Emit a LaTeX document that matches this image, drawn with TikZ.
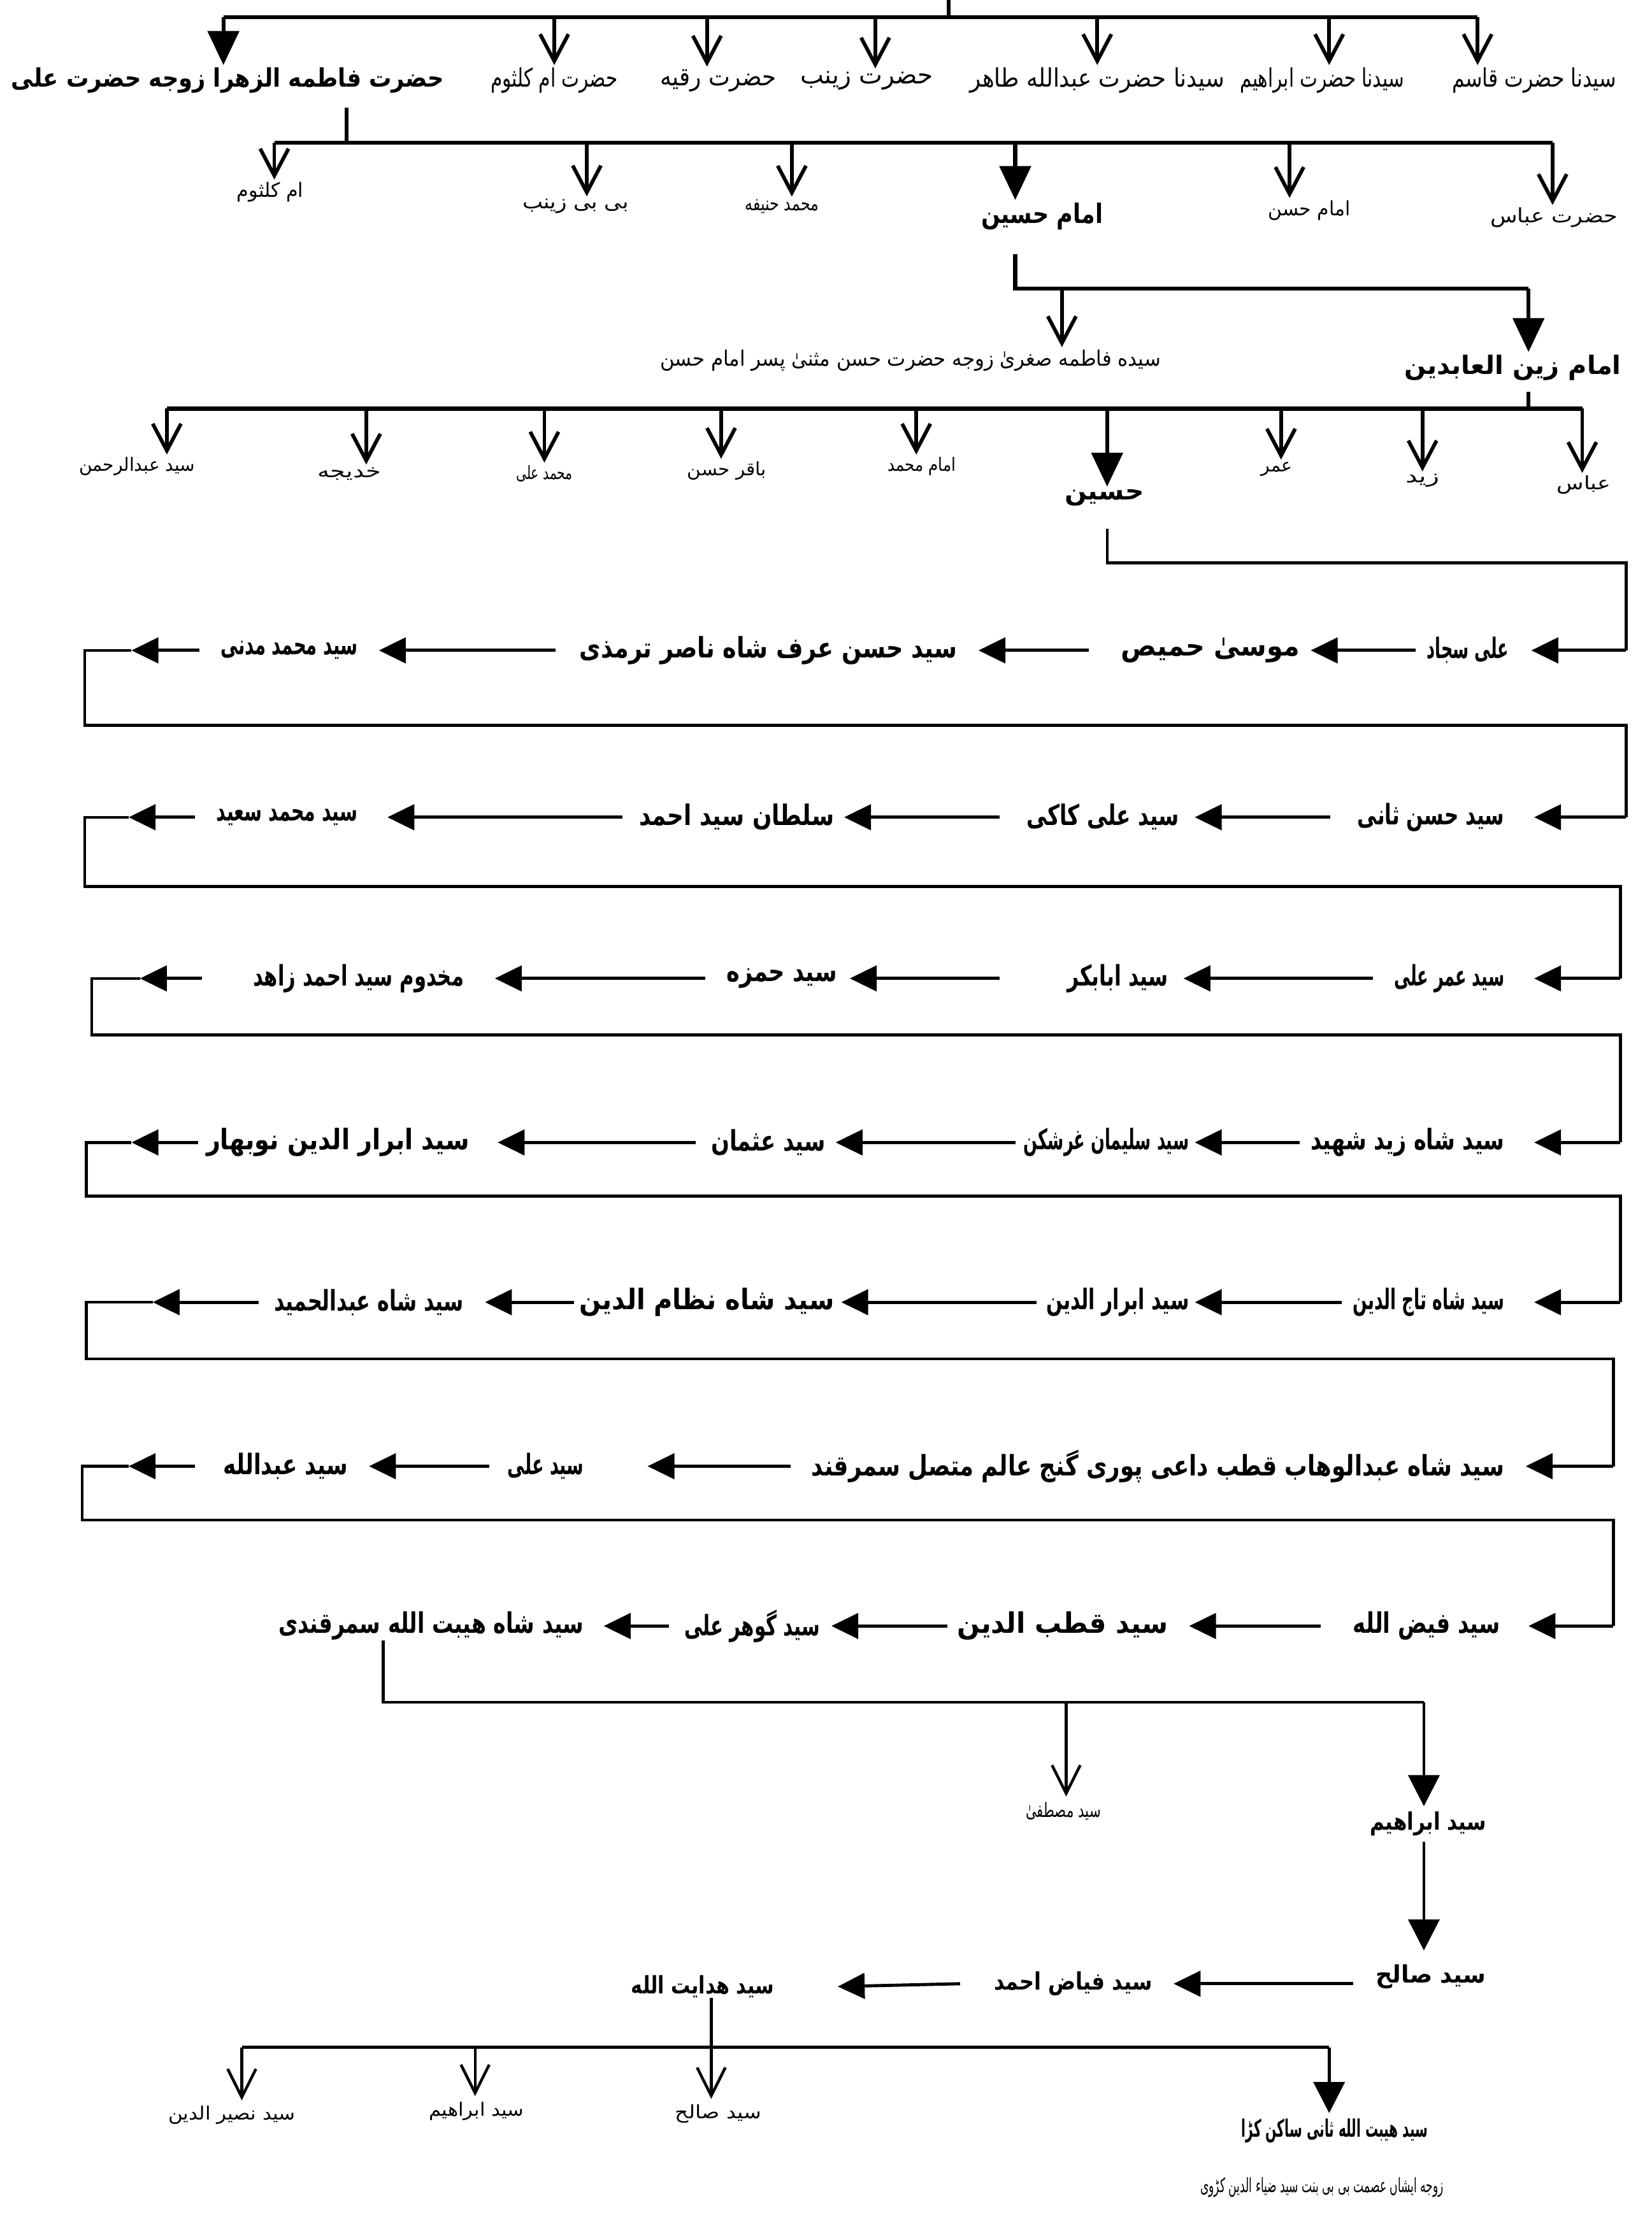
\documentclass[tikz,border=0pt]{standalone}
\usepackage{fontspec}
\usepackage{graphicx}
\usetikzlibrary{arrows.meta}
\newfontfamily\ur[Script=Arabic]{DejaVu Sans}
\TeXXeTstate=1
\newcommand\Uw[3]{\resizebox{#1pt}{\height}{\ur\fontsize{#2}{#2}\selectfont #3}}
\newcommand\Ub[3]{\resizebox{#1pt}{\height}{\ur\bfseries\fontsize{#2}{#2}\selectfont #3}}
\tikzset{
  lab/.style={inner sep=0pt,outer sep=0pt},
  tl/.style={line width=2.8pt},
  oarr/.style={line width=2.6pt,shorten >=2pt,-{Straight Barb[length=19pt,width=20pt]}},
  barr/.style={line width=2.8pt,shorten >=2pt,-{Triangle[length=24pt,width=22pt]}},
  cl/.style={line width=2pt},
  carr/.style={line width=2.2pt,-{Triangle[length=19pt,width=18pt]}},
  oarrb/.style={line width=2pt,shorten >=4pt,-{Straight Barb[length=20pt,width=20pt]}},
  barrb/.style={line width=2.2pt,shorten >=4pt,-{Triangle[length=22pt,width=22pt]}},
}
\begin{document}
\begin{tikzpicture}[x=1pt,y=-1pt]
\fill[white] (0,0) rectangle (1168,1568);
\useasboundingbox (0,0) rectangle (1168,1568);

% ---------- top row: children ----------
\node[lab] (t1) at (161,57) {\Ub{306}{18}{\beginR حضرت فاطمه الزهرا زوجه حضرت علی\endR}};
\node[lab] (t2) at (392,57) {\Uw{90}{18}{\beginR حضرت ام کلثوم\endR}};
\node[lab] (t3) at (508,57) {\Uw{82}{18}{\beginR حضرت رقیه\endR}};
\node[lab] (t4) at (613,57) {\Uw{94}{18}{\beginR حضرت زینب\endR}};
\node[lab] (t5) at (776,57) {\Uw{180}{18}{\beginR سیدنا حضرت عبدالله طاهر\endR}};
\node[lab] (t6) at (935,57) {\Uw{116}{18}{\beginR سیدنا حضرت ابراهیم\endR}};
\node[lab] (t7) at (1085,57) {\Uw{116}{18}{\beginR سیدنا حضرت قاسم\endR}};

\coordinate (top0) at (671,0);
\coordinate (top1) at (671,12);
\coordinate (a1) at (158,12);
\coordinate (a2) at (392,12);
\coordinate (a3) at (500,12);
\coordinate (a4) at (619,12);
\coordinate (a5) at (776,12);
\coordinate (a6) at (940,12);
\coordinate (a7) at (1045,12);
\draw[tl] (top0) -- (top1);
\draw[tl] (a1) -- (a7);
\draw[barr] (a1) -- (a1 |- t1.north);
\draw[oarr] (a2) -- (a2 |- t2.north);
\draw[oarr] (a3) -- (a3 |- t3.north);
\draw[oarr] (a4) -- (a4 |- t4.north);
\draw[oarr] (a5) -- (a5 |- t5.north);
\draw[oarr] (a6) -- (a6 |- t6.north);
\draw[oarr] (a7) -- (a7 |- t7.north);

% ---------- second row ----------
\node[lab] (r1) at (191,136) {\Uw{47}{14}{\beginR ام کلثوم\endR}};
\node[lab] (r2) at (407,146) {\Uw{75}{14}{\beginR بی بی زینب\endR}};
\node[lab] (r3) at (553,146) {\Uw{52}{14}{\beginR محمد حنیفه\endR}};
\node[lab] (r4) at (737,153) {\Ub{86}{19}{\beginR امام حسین\endR}};
\node[lab] (r5) at (926,149) {\Uw{58}{14}{\beginR امام حسن\endR}};
\node[lab] (r6) at (1099,154) {\Uw{90}{14}{\beginR حضرت عباس\endR}};

\coordinate (f0) at (245,76);
\coordinate (f1) at (245,101);
\coordinate (g1) at (194,101);
\coordinate (g2) at (415,101);
\coordinate (g3) at (560,101);
\coordinate (g4) at (718,101);
\coordinate (g5) at (912,101);
\coordinate (g6) at (1098,101);
\draw[tl] (f0) -- (f1);
\draw[tl] (g1) -- (g6);
\draw[oarr] (g1) -- (g1 |- r1.north);
\draw[oarr] (g2) -- (g2 |- r2.north);
\draw[oarr] (g3) -- (g3 |- r3.north);
\draw[barr] (g4) -- (g4 |- r4.north);
\draw[oarr] (g5) -- (g5 |- r5.north);
\draw[oarr] (g6) -- (g6 |- r6.north);

% ---------- Imam Husain ----------
\node[lab] (fs) at (644,255) {\Uw{354}{15}{\beginR سیده فاطمه صغریٰ زوجه حضرت حسن مثنیٰ پسر امام حسن\endR}};
\node[lab] (za) at (1070,260) {\Ub{153}{18}{\beginR امام زین العابدین\endR}};
\coordinate (h0) at (718,180);
\coordinate (h1) at (718,204);
\coordinate (h2) at (751,204);
\coordinate (h3) at (1081,204);
\draw[tl] (h0) -- (h1) -- (h3);
\draw[oarr] (h2) -- (h2 |- fs.north);
\draw[barr] (h3) -- (h3 |- za.north);

% ---------- Zain ul Abidin ----------
\node[lab] (z1) at (97,330) {\Uw{82}{13}{\beginR سید عبدالرحمن\endR}};
\node[lab] (z2) at (247,335) {\Uw{45}{13}{\beginR خدیجه\endR}};
\node[lab] (z3) at (385,335) {\Uw{40}{13}{\beginR محمد علی\endR}};
\node[lab] (z4) at (514,333) {\Uw{56}{13}{\beginR باقر حسن\endR}};
\node[lab] (z5) at (652,330) {\Uw{48}{13}{\beginR امام محمد\endR}};
\node[lab] (z6) at (781,352) {\Ub{56}{18}{\beginR حسین\endR}};
\node[lab] (z7) at (903,332) {\Uw{22}{13}{\beginR عمر\endR}};
\node[lab] (z8) at (1006,340) {\Uw{24}{13}{\beginR زید\endR}};
\node[lab] (z9) at (1120,343) {\Uw{38}{13}{\beginR عباس\endR}};
\coordinate (y0) at (1081,277);
\coordinate (y1) at (1081,289);
\coordinate (p1) at (118,289);
\coordinate (p2) at (259,289);
\coordinate (p3) at (385,289);
\coordinate (p4) at (510,289);
\coordinate (p5) at (648,289);
\coordinate (p6) at (783,289);
\coordinate (p7) at (906,289);
\coordinate (p8) at (1006,289);
\coordinate (p9) at (1119,289);
\draw[tl] (y0) -- (y1);
\draw[tl] (p1) -- (p9);
\draw[oarr] (p1) -- (p1 |- z1.north);
\draw[oarr] (p2) -- (p2 |- z2.north);
\draw[oarr] (p3) -- (p3 |- z3.north);
\draw[oarr] (p4) -- (p4 |- z4.north);
\draw[oarr] (p5) -- (p5 |- z5.north);
\draw[barr] (p6) -- (p6 |- z6.north);
\draw[oarr] (p7) -- (p7 |- z7.north);
\draw[oarr] (p8) -- (p8 |- z8.north);
\draw[oarr] (p9) -- (p9 |- z9.north);

% ---------- chain ----------
\coordinate (hh) at (783,374);
\coordinate (hh1) at (783,398);
\coordinate (hh2) at (1150,398);
\coordinate (c1) at (1150,460);
\draw[cl] (hh) -- (hh1) -- (hh2) -- (c1);

% row 1
\node[lab] (n11) at (1038,460) {\Ub{58}{20}{\beginR علی سجاد\endR}};
\node[lab] (n12) at (856,460) {\Ub{126}{20}{\beginR موسیٰ حمیص\endR}};
\node[lab] (n13) at (543.5,460) {\Ub{267}{20}{\beginR سید حسن عرف شاه ناصر ترمذی\endR}};
\node[lab] (n14) at (204.5,460) {\Ub{97}{20}{\beginR سید محمد مدنی\endR}};
\coordinate (k1) at (93,460);
\coordinate (L1) at (60,460);
\coordinate (B1) at (1150,513);
\coordinate (c2) at (1150,578);
\draw[carr] (c1) -- ([xshift=16pt]n11.east);
\draw[carr] ([xshift=-8pt]n11.west) -- ([xshift=8pt]n12.east);
\draw[carr] ([xshift=-23pt]n12.west) -- ([xshift=15pt]n13.east);
\draw[carr] ([xshift=-17pt]n13.west) -- ([xshift=15pt]n14.east);
\draw[carr] ([xshift=-15pt]n14.west) -- (k1);
\draw[cl] (k1) -- (L1) |- (B1) -- (c2);

% row 2
\node[lab] (n21) at (1012,578) {\Ub{104}{20}{\beginR سید حسن ثانی\endR}};
\node[lab] (n22) at (780,578) {\Ub{108}{20}{\beginR سید علی کاکی\endR}};
\node[lab] (n23) at (521,578) {\Ub{138}{20}{\beginR سلطان سید احمد\endR}};
\node[lab] (n24) at (203,578) {\Ub{100}{20}{\beginR سید محمد سعید\endR}};
\coordinate (k2) at (91,578);
\coordinate (L2) at (60,578);
\coordinate (B2) at (1146,627);
\coordinate (c3) at (1146,692);
\draw[carr] (c2) -- ([xshift=21pt]n21.east);
\draw[carr] ([xshift=-19pt]n21.west) -- ([xshift=11pt]n22.east);
\draw[carr] ([xshift=-19pt]n22.west) -- ([xshift=7pt]n23.east);
\draw[carr] ([xshift=-12pt]n23.west) -- ([xshift=21pt]n24.east);
\draw[carr] ([xshift=-15pt]n24.west) -- (k2);
\draw[cl] (k2) -- (L2) |- (B2) -- (c3);

% row 3
\node[lab] (n31) at (1025,692) {\Ub{78}{20}{\beginR سید عمر علی\endR}};
\node[lab] (n32) at (790.5,692) {\Ub{71}{20}{\beginR سید ابابکر\endR}};
\node[lab] (n33) at (553,692) {\Ub{78}{20}{\beginR سید حمزه\endR}};
\node[lab] (n34) at (253.5,692) {\Ub{149}{20}{\beginR مخدوم سید احمد زاهد\endR}};
\coordinate (k3) at (99,692);
\coordinate (L3) at (65,692);
\coordinate (B3) at (1146,732);
\coordinate (c4) at (1146,808);
\draw[carr] (c3) -- ([xshift=21pt]n31.east);
\draw[carr] ([xshift=-15pt]n31.west) -- ([xshift=11pt]n32.east);
\draw[carr] ([xshift=-48pt]n32.west) -- ([xshift=9pt]n33.east);
\draw[carr] ([xshift=-15pt]n33.west) -- ([xshift=22pt]n34.east);
\draw[carr] ([xshift=-36pt]n34.west) -- (k3);
\draw[cl] (k3) -- (L3) |- (B3) -- (c4);

% row 4
\node[lab] (n41) at (995.5,808) {\Ub{137}{20}{\beginR سید شاه زید شهید\endR}};
\node[lab] (n42) at (782.5,808) {\Ub{117}{20}{\beginR سید سلیمان غرشکن\endR}};
\node[lab] (n43) at (543.5,808) {\Ub{81}{20}{\beginR سید عثمان\endR}};
\node[lab] (n44) at (239,808) {\Ub{186}{20}{\beginR سید ابرار الدین نوبهار\endR}};
\coordinate (k4) at (93,808);
\coordinate (L4) at (61,808);
\coordinate (B4) at (1146,846);
\coordinate (c5) at (1146,921);
\draw[carr] (c4) -- ([xshift=21pt]n41.east);
\draw[carr] ([xshift=-8pt]n41.west) -- ([xshift=4pt]n42.east);
\draw[carr] ([xshift=-6pt]n42.west) -- ([xshift=7pt]n43.east);
\draw[carr] ([xshift=-11pt]n43.west) -- ([xshift=20pt]n44.east);
\draw[carr] ([xshift=-6pt]n44.west) -- (k4);
\draw[cl] (k4) -- (L4) |- (B4) -- (c5);

% row 5
\node[lab] (n51) at (1010.5,921) {\Ub{107}{20}{\beginR سید شاه تاج الدین\endR}};
\node[lab] (n52) at (790.5,921) {\Ub{101}{20}{\beginR سید ابرار الدین\endR}};
\node[lab] (n53) at (500,921) {\Ub{180}{20}{\beginR سید شاه نظام الدین\endR}};
\node[lab] (n54) at (261,921) {\Ub{134}{20}{\beginR سید شاه عبدالحمید\endR}};
\coordinate (k5) at (108,921);
\coordinate (L5) at (61,921);
\coordinate (B5) at (1141,961);
\coordinate (c6) at (1141,1037);
\draw[carr] (c5) -- ([xshift=21pt]n51.east);
\draw[carr] ([xshift=-8pt]n51.west) -- ([xshift=4pt]n52.east);
\draw[carr] ([xshift=-7pt]n52.west) -- ([xshift=5pt]n53.east);
\draw[carr] ([xshift=-4pt]n53.west) -- ([xshift=15pt]n54.east);
\draw[carr] ([xshift=-11pt]n54.west) -- (k5);
\draw[cl] (k5) -- (L5) |- (B5) -- (c6);

% row 6
\node[lab] (n61) at (819,1037) {\Ub{490}{20}{\beginR سید شاه عبدالوهاب قطب داعی پوری گنج عالم متصل سمرقند\endR}};
\node[lab] (n62) at (386,1037) {\Ub{54}{20}{\beginR سید علی\endR}};
\node[lab] (n63) at (202,1037) {\Ub{88}{20}{\beginR سید عبدالله\endR}};
\coordinate (k6) at (91,1037);
\coordinate (L6) at (58,1037);
\coordinate (B6) at (1141,1075);
\coordinate (c7) at (1141,1150);
\draw[carr] (c6) -- ([xshift=15pt]n61.east);
\draw[carr] ([xshift=-15pt]n61.west) -- ([xshift=45pt]n62.east);
\draw[carr] ([xshift=-13pt]n62.west) -- ([xshift=15pt]n63.east);
\draw[carr] ([xshift=-20pt]n63.west) -- (k6);
\draw[cl] (k6) -- (L6) |- (B6) -- (c7);

% row 7
\node[lab] (n71) at (1009,1150) {\Ub{104}{20}{\beginR سید فیض الله\endR}};
\node[lab] (n72) at (751.5,1150) {\Ub{149}{20}{\beginR سید قطب الدین\endR}};
\node[lab] (n73) at (532,1150) {\Ub{96}{20}{\beginR سید گوهر علی\endR}};
\node[lab] (n74) at (305,1150) {\Ub{216}{20}{\beginR سید شاه هیبت الله سمرقندی\endR}};
\draw[carr] (c7) -- ([xshift=20pt]n71.east);
\draw[carr] ([xshift=-23pt]n71.west) -- ([xshift=15pt]n72.east);
\draw[carr] ([xshift=-7pt]n72.west) -- ([xshift=8pt]n73.east);
\draw[carr] ([xshift=-11pt]n73.west) -- ([xshift=14pt]n74.east);

% ---------- lower tree ----------
\node[lab] (mus) at (752,1281) {\Uw{53}{14}{\beginR سید مصطفیٰ\endR}};
\node[lab] (ibr) at (1010,1290) {\Ub{82}{17}{\beginR سید ابراهیم\endR}};
\node[lab] (sal) at (1012,1398) {\Ub{78}{17}{\beginR سید صالح\endR}};
\node[lab] (fay) at (759,1403) {\Ub{112}{17}{\beginR سید فیاض احمد\endR}};
\node[lab] (hid) at (497,1405) {\Ub{101}{17}{\beginR سید هدایت الله\endR}};
\coordinate (s1) at (271,1204);
\coordinate (sm) at (754,1204);
\coordinate (s2) at (1007,1204);
\draw[cl] (n74.south -| s1) -- (s1) -- (s2);
\draw[oarrb] (sm) -- (sm |- mus.north);
\draw[barrb] (s2) -- (s2 |- ibr.north);
\draw[barrb,shorten <=4pt,shorten >=10pt] (ibr.south -| s2) -- (sal.north -| s2);
\draw[carr] ([xshift=-16pt]sal.west |- fay.east) -- ([xshift=15pt]fay.east);
\draw[carr] ([xshift=-24pt]fay.west) -- ([xshift=45pt]hid.east);

\node[lab] (b1) at (164,1496) {\Uw{90}{13}{\beginR سید نصیر الدین\endR}};
\node[lab] (b2) at (337,1493) {\Uw{67}{13}{\beginR سید ابراهیم\endR}};
\node[lab] (b3) at (508,1495) {\Uw{61}{13}{\beginR سید صالح\endR}};
\node[lab] (b4) at (944,1507) {\Ub{132}{17}{\beginR سید هیبت الله ثانی ساکن کڑا\endR}};
\node[lab] (b5) at (935,1547) {\Uw{172}{14}{\beginR زوجه ایشاں عصمت بی بی بنت سید ضیاء الدین کڑوی\endR}};
\coordinate (qL) at (171,1448);
\coordinate (q2) at (336,1448);
\coordinate (q) at (503,1448);
\coordinate (qR) at (940,1448);
\draw[cl] (qL) -- (qR);
\draw[oarrb] (hid.south -| q) -- (q |- b3.north);
\draw[oarrb] (qL) -- (qL |- b1.north);
\draw[oarrb] (q2) -- (q2 |- b2.north);
\draw[barrb] (qR) -- (qR |- b4.north);
\end{tikzpicture}
\end{document}
